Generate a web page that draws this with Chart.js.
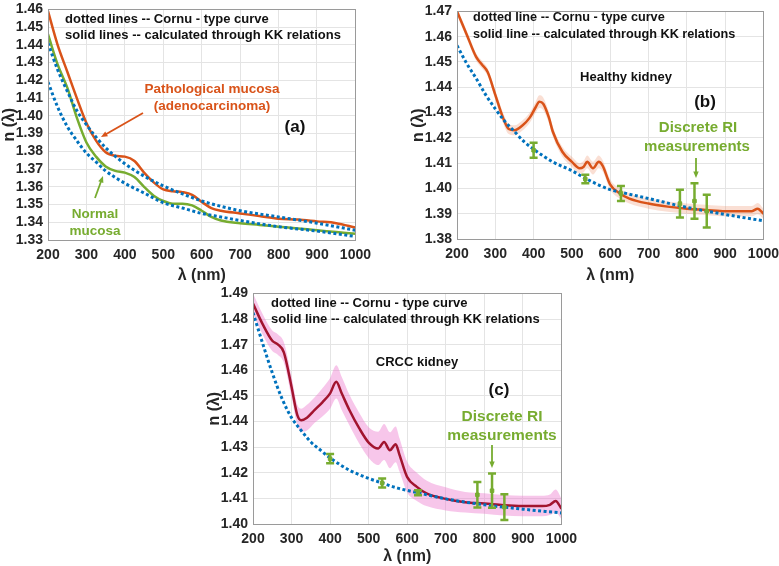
<!DOCTYPE html>
<html lang="en">
<head>
<meta charset="UTF-8">
<title>Refractive index spectra</title>
<script src="https://cdn.jsdelivr.net/npm/chart.js"></script>
<style>
  body { margin: 0; background: #fff; }
  #wrap { position: relative; width: 779px; height: 566px; overflow: hidden; }
  canvas { position: absolute; }
</style>
</head>
<body>
<div id="wrap">
  <canvas id="chartA" width="380" height="285"></canvas>
  <canvas id="chartB" width="380" height="285"></canvas>
  <canvas id="chartC" width="380" height="285"></canvas>
</div>
<script>
// ---- (a) colon mucosa ----
const wlA = [200,225,250,275,300,325,350,375,400,425,450,475,500,525,550,575,600,625,650,700,750,800,850,900,950,1000];
const pathoKK = [1.459,1.440,1.425,1.410,1.396,1.386,1.3795,1.3775,1.377,1.3745,1.368,1.3625,1.3585,1.3575,1.357,1.3555,1.3515,1.348,1.3465,1.345,1.3435,1.342,1.3415,1.3405,1.3395,1.337];
const normalKK = [1.446,1.429,1.416,1.399,1.385,1.377,1.3715,1.369,1.368,1.3655,1.360,1.355,1.352,1.3505,1.3505,1.3495,1.3465,1.343,1.341,1.3395,1.3385,1.3375,1.3365,1.3355,1.3345,1.3335];
const wlCornuA = [200,225,250,275,300,325,350,400,450,500,550,600,650,700,800,900,1000];
const pathoCornu = [1.441,1.426,1.414,1.403,1.395,1.388,1.382,1.373,1.366,1.3605,1.356,1.352,1.349,1.3465,1.343,1.3395,1.3355];
const normalCornu = [1.419,1.405,1.394,1.386,1.379,1.374,1.369,1.362,1.3565,1.351,1.348,1.345,1.343,1.341,1.3375,1.335,1.332];

// ---- (b) healthy kidney ----
const wlB = [200,225,250,265,280,300,320,335,350,370,390,405,415,425,440,450,475,500,520,530,540,555,570,580,600,625,650,700,750,800,850,900,950,970,985,1000];
const healthyKK = [1.470,1.461,1.452,1.449,1.446,1.437,1.428,1.4235,1.423,1.4248,1.428,1.432,1.4343,1.4335,1.428,1.4225,1.4145,1.4105,1.408,1.4085,1.4105,1.408,1.4105,1.409,1.4015,1.398,1.396,1.394,1.3928,1.392,1.3915,1.391,1.391,1.391,1.392,1.390];
const healthyBand = [0.0015,0.0015,0.0015,0.0015,0.0015,0.0018,0.002,0.002,0.002,0.002,0.002,0.0022,0.0025,0.0025,0.0022,0.002,0.002,0.002,0.002,0.0022,0.0025,0.0025,0.0025,0.0022,0.002,0.002,0.002,0.002,0.002,0.002,0.002,0.002,0.002,0.002,0.0022,0.002];
const wlCornuB = [200,225,250,275,300,325,350,375,400,450,500,535,600,628,700,800,900,1000];
const healthyCornu = [1.4565,1.4495,1.4435,1.437,1.4315,1.4265,1.4225,1.4185,1.4155,1.4105,1.407,1.404,1.3995,1.3985,1.396,1.3925,1.3897,1.3872];

// discrete RI measurement wavelengths (b) and (c)
const riWl = [400,535,628,782,820,852];
const healthyRI = [1.4151,1.4037,1.398,1.394,1.395,1.391];
const healthyRIerr = [0.003,0.0017,0.003,0.0055,0.007,0.0065];

// ---- (c) CRCC kidney ----
const wlC = [200,225,250,265,280,300,315,325,340,360,380,400,416,430,450,475,500,525,540,555,570,580,600,625,650,700,750,800,850,900,950,970,985,1000];
const crccKK = [1.486,1.478,1.4715,1.470,1.467,1.4535,1.4425,1.4405,1.4415,1.4445,1.4475,1.451,1.4555,1.451,1.4445,1.4375,1.4318,1.4295,1.432,1.4288,1.4311,1.427,1.4183,1.4145,1.412,1.4098,1.4085,1.408,1.4073,1.407,1.407,1.4075,1.409,1.406];
const crccBand = [0.004,0.004,0.004,0.004,0.004,0.004,0.004,0.0045,0.005,0.005,0.0055,0.006,0.0065,0.0065,0.006,0.006,0.006,0.0065,0.007,0.007,0.007,0.0065,0.006,0.0055,0.005,0.0045,0.004,0.004,0.004,0.004,0.004,0.004,0.0045,0.004];
const wlCornuC = [200,225,250,275,300,325,350,375,400,450,500,535,575,628,700,800,900,1000];
const crccCornu = [1.4825,1.4705,1.459,1.449,1.4415,1.4365,1.432,1.4288,1.4258,1.421,1.4178,1.416,1.414,1.4122,1.4098,1.4075,1.4058,1.4043];
const crccRI = [1.4255,1.4160,1.4122,1.4114,1.413,1.4066];
const crccRIerr = [0.0018,0.0018,0.001,0.005,0.0067,0.005];

const BLUE = '#0072BD', ORANGE = '#D95319', GREEN = '#77AC30', DARKRED = '#A2142F';
const FONT = 'Arial, "Liberation Sans", sans-serif';

function pts(xs, ys) { return xs.map((x, i) => ({ x: x, y: ys[i] })); }
function shift(ys, ds, sign) { return ys.map((y, i) => y + sign * ds[i]); }
function bars(xs, ys, es) {
  const out = [];
  xs.forEach((x, i) => { out.push({ x: x, y: ys[i] - es[i] }, { x: x, y: ys[i] + es[i] }, { x: x, y: null }); });
  return out;
}

function solid(xs, ys, color) {
  return { data: pts(xs, ys), borderColor: color, borderWidth: 2.5, pointRadius: 0, cubicInterpolationMode: 'monotone', fill: false, order: 2 };
}
function dotted(xs, ys) {
  return { data: pts(xs, ys), borderColor: BLUE, borderWidth: 3, borderDash: [3, 2.5], pointRadius: 0, cubicInterpolationMode: 'monotone', fill: false, order: 1 };
}
function band(xs, ys, ds, color) {
  return [
    { data: pts(xs, shift(ys, ds, 1)), borderWidth: 0, pointRadius: 0, cubicInterpolationMode: 'monotone', fill: '+1', backgroundColor: color, order: 5 },
    { data: pts(xs, shift(ys, ds, -1)), borderWidth: 0, pointRadius: 0, cubicInterpolationMode: 'monotone', fill: false, order: 6 }
  ];
}
function errorBars(xs, ys, es) {
  return [
    { data: bars(xs, ys, es), borderColor: GREEN, borderWidth: 2.5, tension: 0, pointStyle: 'line', pointRadius: 4, pointBorderWidth: 2.5, pointBorderColor: GREEN, spanGaps: false, fill: false, order: 0 },
    { data: pts(xs, ys), showLine: false, pointStyle: 'rect', pointRadius: 2.5, pointBackgroundColor: GREEN, pointBorderColor: GREEN, order: 0 }
  ];
}

// box round the plot area, like MATLAB "box on"
const frame = {
  id: 'frame',
  afterDatasetsDraw(chart) {
    const a = chart.chartArea, ctx = chart.ctx;
    ctx.save();
    ctx.strokeStyle = '#9a9a9a';
    ctx.lineWidth = 1;
    ctx.strokeRect(Math.round(a.left) + 0.5, Math.round(a.top) + 0.5, Math.round(a.right - a.left), Math.round(a.bottom - a.top));
    ctx.restore();
  }
};

// free text and arrows, given in page coordinates
const notes = {
  id: 'notes',
  afterDraw(chart, args, opts) {
    const ctx = chart.ctx, ox = opts.ox || 0, oy = opts.oy || 0;
    ctx.save();
    (opts.texts || []).forEach(t => {
      ctx.font = t.font;
      ctx.fillStyle = t.color || '#111';
      ctx.textAlign = t.align || 'center';
      ctx.textBaseline = 'middle';
      ctx.fillText(t.text, t.x - ox, t.y - oy);
    });
    (opts.arrows || []).forEach(r => {
      const x1 = r.x1 - ox, y1 = r.y1 - oy, x2 = r.x2 - ox, y2 = r.y2 - oy;
      const ang = Math.atan2(y2 - y1, x2 - x1), h = 7;
      ctx.strokeStyle = r.color; ctx.fillStyle = r.color; ctx.lineWidth = 1.8;
      ctx.beginPath();
      ctx.moveTo(x1, y1);
      ctx.lineTo(x2 - Math.cos(ang) * h * 0.8, y2 - Math.sin(ang) * h * 0.8);
      ctx.stroke();
      ctx.beginPath();
      ctx.moveTo(x2, y2);
      ctx.lineTo(x2 - h * Math.cos(ang - 0.4), y2 - h * Math.sin(ang - 0.4));
      ctx.lineTo(x2 - h * Math.cos(ang + 0.4), y2 - h * Math.sin(ang + 0.4));
      ctx.closePath();
      ctx.fill();
    });
    ctx.restore();
  }
};

function build(canvas, cfg) {
  const tickFont = { family: FONT, size: 14, weight: 'bold' };
  const titleFont = { family: FONT, size: 16, weight: 'bold' };
  return new Chart(canvas, {
    type: 'line',
    data: { datasets: cfg.datasets },
    options: {
      responsive: false,
      maintainAspectRatio: false,
      animation: false,
      layout: { padding: 0 },
      scales: {
        x: {
          type: 'linear', min: 200, max: 1000,
          afterFit: s => { s.height = cfg.xHeight; },
          ticks: { stepSize: 100, autoSkip: false, font: tickFont, color: '#262626', padding: 7, maxRotation: 0, callback: v => String(v) },
          grid: { color: '#e4e4e4', drawTicks: false },
          border: { display: false },
          title: { display: true, text: 'λ (nm)', font: titleFont, color: '#262626', padding: { top: 2, bottom: 0 } }
        },
        y: {
          min: cfg.yMin, max: cfg.yMax,
          afterFit: s => { s.width = 48; },
          ticks: { stepSize: 0.01, autoSkip: false, font: tickFont, color: '#262626', padding: 5, callback: v => v.toFixed(2) },
          grid: { color: '#e4e4e4', drawTicks: false },
          border: { display: false },
          title: { display: true, text: 'n (λ)', font: titleFont, color: '#262626', padding: { top: 0, bottom: 2 } }
        }
      },
      plugins: {
        legend: { display: false },
        tooltip: { enabled: false },
        notes: cfg.notes
      }
    },
    plugins: [frame, notes]
  });
}

// size and place the canvas so the plot area sits on cfg.box (page pixels)
function makePanel(id, cfg) {
  const canvas = document.getElementById(id);
  let chart = build(canvas, cfg);
  for (let k = 0; k < 2; k++) {
    const a = chart.chartArea;
    const mL = a.left, mT = a.top, mR = chart.width - a.right, mB = chart.height - a.bottom;
    chart.destroy();
    const w = Math.round(cfg.box.right - cfg.box.left + mL + mR);
    const h = Math.round(cfg.box.bottom - cfg.box.top + mT + mB);
    const left = Math.round(cfg.box.left - mL), top = Math.round(cfg.box.top - mT);
    canvas.width = w; canvas.height = h;
    canvas.style.width = w + 'px'; canvas.style.height = h + 'px';
    canvas.style.left = left + 'px'; canvas.style.top = top + 'px';
    cfg.notes.ox = left; cfg.notes.oy = top;
    chart = build(canvas, cfg);
  }
  return chart;
}

const txt = (text, x, y, size, color, align) => ({ text, x, y, font: 'bold ' + size + 'px ' + FONT, color, align });

makePanel('chartA', {
  yMin: 1.33, yMax: 1.46, xHeight: 45,
  box: { left: 48, top: 9, right: 355, bottom: 240 },
  datasets: [
    dotted(wlCornuA, pathoCornu),
    dotted(wlCornuA, normalCornu),
    solid(wlA, pathoKK, ORANGE),
    solid(wlA, normalKK, GREEN)
  ],
  notes: {
    texts: [
      txt('dotted lines -- Cornu - type curve', 65, 19, 13, '#111', 'left'),
      txt('solid lines -- calculated through KK relations', 65, 35, 13, '#111', 'left'),
      txt('Pathological mucosa', 212, 89, 13.5, ORANGE),
      txt('(adenocarcinoma)', 212, 106, 13.5, ORANGE),
      txt('(a)', 295, 127, 17, '#111'),
      txt('Normal', 95, 214, 13.5, GREEN),
      txt('mucosa', 95, 231, 13.5, GREEN)
    ],
    arrows: [
      { x1: 143, y1: 113, x2: 101, y2: 137, color: ORANGE },
      { x1: 95, y1: 198, x2: 103, y2: 176, color: GREEN }
    ]
  }
});

makePanel('chartB', {
  yMin: 1.38, yMax: 1.47, xHeight: 46,
  box: { left: 457, top: 11, right: 763, bottom: 239 },
  datasets: [
    ...errorBars(riWl, healthyRI, healthyRIerr),
    dotted(wlCornuB, healthyCornu),
    solid(wlB, healthyKK, ORANGE),
    ...band(wlB, healthyKK, healthyBand, 'rgba(236,140,100,0.28)')
  ],
  notes: {
    texts: [
      txt('dotted line -- Cornu - type curve', 473, 17, 12.7, '#111', 'left'),
      txt('solid line -- calculated through KK relations', 473, 34, 12.7, '#111', 'left'),
      txt('Healthy kidney', 626, 77, 13, '#111'),
      txt('(b)', 705, 102, 17, '#111'),
      txt('Discrete RI', 698, 128, 15, GREEN),
      txt('measurements', 697, 147, 15, GREEN)
    ],
    arrows: [{ x1: 696, y1: 158, x2: 696, y2: 178, color: GREEN }]
  }
});

makePanel('chartC', {
  yMin: 1.40, yMax: 1.49, xHeight: 42,
  box: { left: 253, top: 293, right: 561, bottom: 524 },
  datasets: [
    ...errorBars(riWl, crccRI, crccRIerr),
    dotted(wlCornuC, crccCornu),
    solid(wlC, crccKK, DARKRED),
    ...band(wlC, crccKK, crccBand, 'rgba(236,120,205,0.42)')
  ],
  notes: {
    texts: [
      txt('dotted line -- Cornu - type curve', 271, 303, 13, '#111', 'left'),
      txt('solid line -- calculated through KK relations', 271, 319, 13, '#111', 'left'),
      txt('CRCC kidney', 417, 362, 13, '#111'),
      txt('(c)', 499, 390, 17, '#111'),
      txt('Discrete RI', 502, 417, 15.5, GREEN),
      txt('measurements', 502, 436, 15.5, GREEN)
    ],
    arrows: [{ x1: 492, y1: 445, x2: 492, y2: 468, color: GREEN }]
  }
});
</script>
</body>
</html>
